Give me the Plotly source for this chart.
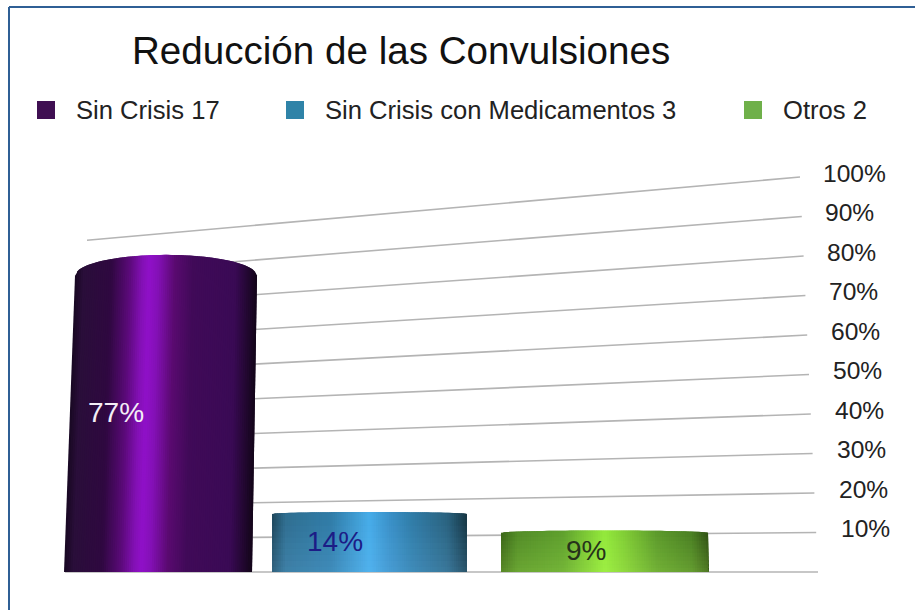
import numpy as np
import plotly.graph_objects as go

# Chart content
title = "Reducción de las Convulsiones"
categories = ["Sin Crisis 17", "Sin Crisis con Medicamentos 3", "Otros 2"]
percent = [77, 14, 9]
percent_labels = ["77%", "14%", "9%"]
tick_values = [10, 20, 30, 40, 50, 60, 70, 80, 90, 100]
tick_labels = ["10%", "20%", "30%", "40%", "50%", "60%", "70%", "80%", "90%", "100%"]

# Horizontal layout of the cylinders: (bottom left, bottom right, top left, top right)
cyl_edges = [(64, 252, 75, 257), (272, 467, 272, 467), (501, 709, 501, 708)]
cyl_dome = [5.3, 0.5, 0.6]
label_x = [116, 335, 586]
label_shift = [7, 3, 4]
label_colors = ["#f4eef6", "#1c1c86", "#26331a"]

# Cylinder shading across the width: (position, colour)
shades = [
    [(0, "#180822"), (0.05, "#2a0e3a"), (0.2, "#2f0840"), (0.3, "#5a0a78"), (0.37, "#8210b4"),
     (0.41, "#9010c8"), (0.46, "#8410b6"), (0.55, "#5a0a70"), (0.65, "#400a58"), (0.88, "#3a0a55"),
     (1, "#120518")],
    [(0, "#1d4458"), (0.07, "#2e6c8e"), (0.3, "#2f7aa5"), (0.5, "#46ace9"), (0.6, "#3a90c8"),
     (0.72, "#2f7aa5"), (0.9, "#28607c"), (1, "#14323f")],
    [(0, "#3a6418"), (0.08, "#528c28"), (0.3, "#5fa02e"), (0.5, "#94ea3c"), (0.6, "#80cc36"),
     (0.75, "#5c9a2c"), (0.92, "#4a7f24"), (1, "#2f5014")],
]
# Light falling on the lower part of the two short cylinders
short_glow = [None, "rgba(120,200,255,{a})", "rgba(190,255,90,{a})"]
legend_colors = ["#3f0f52", "#2f83a8", "#6fb04a"]
legend_marker_x = [46, 295, 753]
legend_text_x = [74, 323, 781]

GRID_COLOR = "#b4b4b4"
FRAME_COLOR = "#2f5f95"
PX_PER_PERCENT = 3.95
BASE_PX = 572


def shade_at(stops, t):
    pos = [s[0] for s in stops]
    rgb = np.array([[int(s[1][i:i + 2], 16) for i in (1, 3, 5)] for s in stops], float)
    return "rgb({:.0f},{:.0f},{:.0f})".format(*[np.interp(t, pos, rgb[:, k]) for k in range(3)])


fig = go.Figure()

# Receding grid lines: each rises from its back-wall height to the tick on the right
for v in [0] + tick_values:
    x0 = 65 if v == 0 else 87
    x1 = 818 - 0.18 * v
    fig.add_trace(go.Scatter(x=[x0, x1], y=[0.84 * v, v], mode="lines",
                             line=dict(color=GRID_COLOR, width=1.6), hoverinfo="skip"))

# Cylinders, built from narrow vertical strips so the shading reads as a curved surface
N = 90
for v, edges, dome, stops, glow in zip(percent, cyl_edges, cyl_dome, shades, short_glow):
    rim = 0.957 * v + 1.3  # the front rim sits a little off the value because of the tilt
    bl, br, tl, tr = edges
    for i in range(N):
        t0, t1 = i / N, (i + 1) / N
        # each strip overlaps the next one so no seams show between them
        t1b = min(1, t1 + 1 / N)
        u0, u1 = 2 * t0 - 1, 2 * t1b - 1
        top0 = rim + dome * np.sqrt(max(0, 1 - u0 ** 2))
        top1 = rim + dome * np.sqrt(max(0, 1 - u1 ** 2))
        xs = [bl + (br - bl) * t0, bl + (br - bl) * t1b,
              tl + (tr - tl) * t1b, tl + (tr - tl) * t0]
        c = shade_at(stops, (t0 + t1) / 2)
        fig.add_trace(go.Scatter(x=xs + xs[:1], y=[0, 0, top1, top0, 0], mode="none",
                                 fill="toself", fillcolor=c, hoverinfo="skip"))
    if glow:
        # translucent bands, strongest along the floor
        bands = 10
        for b in range(bands):
            y0, y1 = rim * b / bands, rim * (b + 1) / bands
            alpha = 0.22 * (1 - b / bands)
            fig.add_trace(go.Scatter(x=[bl, br, tr, tl, bl], y=[y0, y0, y1, y1, y0], mode="none",
                                     fill="toself", fillcolor=glow.format(a=round(alpha, 3)),
                                     hoverinfo="skip"))

# Legend swatches
for name, color, mx in zip(categories, legend_colors, legend_marker_x):
    fig.add_trace(go.Scatter(x=[mx], y=[(BASE_PX - 110) / PX_PER_PERCENT], mode="markers",
                             name=name, marker=dict(symbol="square", size=18, color=color)))

annotations = [dict(x=130, y=(BASE_PX - 50) / PX_PER_PERCENT, text=title, showarrow=False,
                    xanchor="left", yanchor="middle", font=dict(size=38.6, color="#111111"))]
for name, tx in zip(categories, legend_text_x):
    annotations.append(dict(x=tx, y=(BASE_PX - 110) / PX_PER_PERCENT, text=name, showarrow=False,
                            xanchor="left", yanchor="middle", font=dict(size=25.6, color="#222222")))
for v, label in zip(tick_values, tick_labels):
    annotations.append(dict(x=841 - 0.2 * v, y=v, yshift=4, text=label, showarrow=False,
                            xanchor="left", yanchor="middle", font=dict(size=24.6, color="#222222")))
for v, label, lx, sh, col in zip(percent, percent_labels, label_x, label_shift, label_colors):
    annotations.append(dict(x=lx, y=v / 2, yshift=sh, text=label, showarrow=False,
                            xanchor="center", yanchor="middle", font=dict(size=28, color=col)))

# Frame: only the top and left edges are ruled
frame = [
    dict(type="line", xref="paper", yref="paper", x0=9 / 915, x1=1, y0=1 - 7 / 610, y1=1 - 7 / 610,
         line=dict(color=FRAME_COLOR, width=2)),
    dict(type="line", xref="paper", yref="paper", x0=9 / 915, x1=9 / 915, y0=0, y1=1 - 7 / 610,
         line=dict(color=FRAME_COLOR, width=2)),
]

fig.update_layout(
    width=915, height=610, autosize=False,
    margin=dict(l=0, r=0, t=0, b=0),
    paper_bgcolor="white", plot_bgcolor="white",
    showlegend=False,
    font=dict(family="Liberation Sans, Arial, sans-serif"),
    xaxis=dict(range=[0, 915], visible=False, fixedrange=True),
    yaxis=dict(range=[(BASE_PX - 610) / PX_PER_PERCENT, BASE_PX / PX_PER_PERCENT],
               visible=False, fixedrange=True),
    annotations=annotations,
    shapes=frame,
)

fig.write_html("out.html", config=dict(displayModeBar=False))
